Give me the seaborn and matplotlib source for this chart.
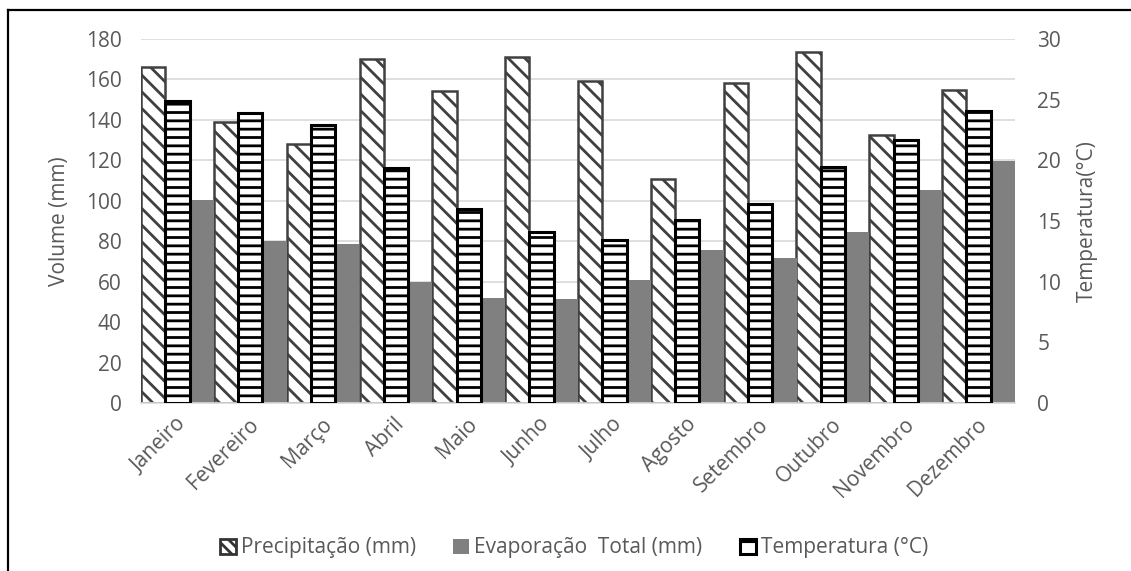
import matplotlib
matplotlib.use("Agg")
import matplotlib.pyplot as plt
import matplotlib.transforms as mtransforms
from matplotlib.lines import Line2D
from matplotlib.patches import Patch
import pandas as pd
import seaborn as sns

# Monthly climate data
meses = ["Janeiro", "Fevereiro", "Março", "Abril", "Maio", "Junho",
         "Julho", "Agosto", "Setembro", "Outubro", "Novembro", "Dezembro"]
precipitacao = [166, 139, 128, 170, 154.5, 171, 159, 110.6, 158.4, 173.4, 132.4, 154.8]
evaporacao = [100.4, 80, 78.8, 60, 52, 51.5, 61, 75.7, 71.9, 84.4, 105.3, 119.7]
temperatura = [24.9, 23.9, 22.9, 19.4, 16.0, 14.1, 13.4, 15.1, 16.4, 19.45, 21.65, 24.1]

serie_p = "Precipitação (mm)"
serie_t = "Temperatura (°C)"
serie_e = "Evaporação  Total (mm)"
ordem = [serie_p, serie_t, serie_e]

volume_ticks = list(range(0, 181, 20))
temp_ticks = list(range(0, 31, 5))

sns.set_theme(style="white")
plt.rcParams["font.family"] = ["Open Sans", "DejaVu Sans"]
plt.rcParams["hatch.linewidth"] = 2.0

GREY_TXT = "#595959"
GRID = "#d9d9d9"
FS = 15

vol = pd.DataFrame({
    "Mês": meses * 2,
    "Série": [serie_p] * len(meses) + [serie_e] * len(meses),
    "Valor": precipitacao + evaporacao,
})
temp = pd.DataFrame({"Mês": meses, "Série": [serie_t] * len(meses), "Valor": temperatura})

palette = {serie_p: "white", serie_t: "white", serie_e: "#808080"}

fig = plt.figure(figsize=(11.31, 5.71), dpi=100)
ax = fig.add_axes([141 / 1131, 1 - 403 / 571, 874 / 1131, 364 / 571])
ax2 = ax.twinx()

common = dict(x="Mês", y="Valor", hue="Série", hue_order=ordem, order=meses,
              palette=palette, width=1.0, gap=0, saturation=1, dodge=True,
              legend=False, errorbar=None)
sns.barplot(data=vol, ax=ax, **common)
sns.barplot(data=temp, ax=ax2, **common)

# bar styling
for bar in ax.patches:
    if bar.get_facecolor()[0] > 0.9:  # precipitation (white)
        bar.set_hatch("\\\\")
        bar.set_edgecolor("#404040")
        bar.set_linewidth(1.8)
    else:
        bar.set_edgecolor("none")
for bar in ax2.patches:
    bar.set_hatch("--")
    bar.set_edgecolor("black")
    bar.set_linewidth(2.2)

# axes
ax.set_ylim(0, 180)
ax.set_yticks(volume_ticks)
ax2.set_ylim(0, 30)
ax2.set_yticks(temp_ticks)
ax.set_xlim(-0.5, len(meses) - 0.5)
ax.set_axisbelow(True)
ax.yaxis.grid(True, color=GRID, linewidth=1.2)
ax.xaxis.grid(False)
ax2.grid(False)
for a in (ax, ax2):
    for s in a.spines.values():
        s.set_visible(False)
ax.spines["bottom"].set_visible(True)
ax.spines["bottom"].set_color(GRID)
ax.spines["bottom"].set_linewidth(1.2)

ax.tick_params(axis="both", length=0, colors=GREY_TXT, labelsize=FS)
ax.tick_params(axis="y", pad=14)
ax2.tick_params(axis="y", length=0, colors=GREY_TXT, labelsize=FS, pad=16)
ax.tick_params(axis="x", pad=8)

ax.set_xlabel("")
ax2.set_xlabel("")
ax.set_ylabel("Volume (mm)", color=GREY_TXT, fontsize=FS)
ax2.set_ylabel("Temperatura(°C)", color=GREY_TXT, fontsize=FS)
ax.yaxis.set_label_coords(-0.081, 0.5)
ax2.yaxis.set_label_coords(1.071, 0.5)

shift = mtransforms.ScaledTranslation(-2 / 100, 0, fig.dpi_scale_trans)
for lbl in ax.get_xticklabels():
    lbl.set_rotation(45)
    lbl.set_ha("right")
    lbl.set_va("top")
    lbl.set_rotation_mode("anchor")
    lbl.set_transform(lbl.get_transform() + shift)

# legend
handles = [
    Patch(facecolor="white", edgecolor="#333333", hatch="\\\\\\", linewidth=2.0, label=serie_p),
    Patch(facecolor="#808080", edgecolor="none", label=serie_e),
    Patch(facecolor="white", edgecolor="black", hatch="-", linewidth=2.2, label=serie_t),
]
leg = fig.legend(handles=handles, loc="center", bbox_to_anchor=(574 / 1131, 1 - 548 / 571),
                 ncol=3, frameon=False, fontsize=FS, handlelength=0.75, handleheight=0.75,
                 handletextpad=0.25, columnspacing=1.8)
for t in leg.get_texts():
    t.set_color(GREY_TXT)

# outer frame
fig.add_artist(Line2D([8 / 1131, 8 / 1131], [-0.05, 1 - 10 / 571], transform=fig.transFigure,
                      color="black", linewidth=1.6, solid_capstyle="projecting"))
fig.add_artist(Line2D([8 / 1131, 1.05], [1 - 10 / 571, 1 - 10 / 571], transform=fig.transFigure,
                      color="black", linewidth=1.6, solid_capstyle="projecting"))

fig.savefig("out.png", dpi=100, facecolor="white")
